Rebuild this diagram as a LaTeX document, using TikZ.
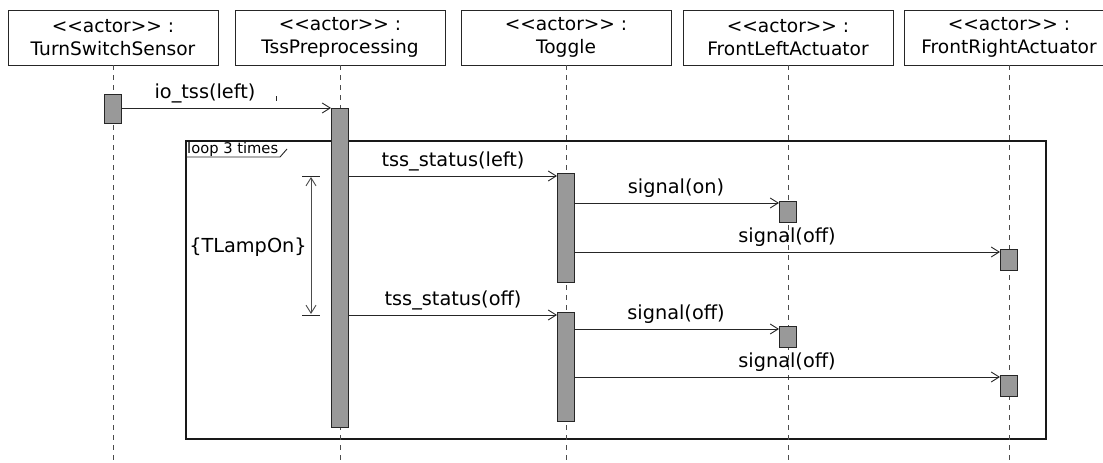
\documentclass[tikz,border=0pt]{standalone}
\usepackage{fontspec}
\setmainfont{DejaVu Sans}
\usetikzlibrary{arrows.meta}
\begin{document}
\begin{tikzpicture}[x=1pt,y=-1pt,
  hdr/.style={draw=black!85, line width=0.9pt, minimum width=210pt, minimum height=55pt, inner sep=0pt, align=center, font=\fontsize{18.6}{23.5}\selectfont, fill=white},
  life/.style={draw=black!70, dash pattern=on 5pt off 5pt, line width=0.9pt},
  act/.style={draw=black!85, fill=black!40, line width=1pt, minimum width=17pt, inner sep=0pt},
  msg/.style={draw=black!85, line width=0.9pt, -{Straight Barb[length=8pt,width=10pt]}},
  lbl/.style={font=\fontsize{19.3}{22}\selectfont, inner sep=0pt},
  frm/.style={draw=black!90, line width=1.3pt},
]
\useasboundingbox (0,0) rectangle (1103,463);
% headers
\node[hdr] (h1) at (113,37.5) {<\kern0pt<actor>\kern0pt> :\\TurnSwitchSensor};
\node[hdr] (h2) at (340,37.5) {<\kern0pt<actor>\kern0pt> :\\TssPreprocessing};
\node[hdr] (h3) at (566,37.5) {<\kern0pt<actor>\kern0pt> :\\Toggle};
\node[hdr] (h4) at (788,37.5) {<\kern0pt<actor>\kern0pt> :\\FrontLeftActuator};
\node[hdr] (h5) at (1009,37.5) {<\kern0pt<actor>\kern0pt> :\\FrontRightActuator};
% loop frame
\draw[frm] (186,141) rectangle (1046,439);
\node[anchor=west, inner sep=0pt, font=\fontsize{14.7}{16}\selectfont] (loopl) at (187,149) {loop 3 times};
\coordinate (tabA) at (186,157);
\coordinate (tabB) at (280,157);
\coordinate (tabC) at (287,149);
\draw[draw=black!85, line width=0.9pt] (tabA) -- (tabB) -- (tabC);
% lifelines
\foreach \i/\x in {1/113,2/340,3/566,4/788,5/1009}{
  \coordinate (e\i) at (\x,463);
  \draw[life] (h\i.south) -- (e\i);
}
% activations
\node[act, anchor=north, minimum height=29pt] (a1) at (113,94) {};
\node[act, anchor=north, minimum height=319pt] (a2) at (340,108) {};
\node[act, anchor=north, minimum height=109pt] (a3a) at (566,173) {};
\node[act, anchor=north, minimum height=109pt] (a3b) at (566,312) {};
\node[act, anchor=north, minimum height=21pt] (a4a) at (788,201) {};
\node[act, anchor=north, minimum height=21pt] (a4b) at (788,326) {};
\node[act, anchor=north, minimum height=21pt] (a5a) at (1009,249) {};
\node[act, anchor=north, minimum height=21pt] (a5b) at (1009,375) {};
% messages
\draw[msg] (a1.east |- 0,108) -- (a2.west |- 0,108);
\node[lbl] (l1) at (205,93) {io\_tss(left)};
\coordinate (tk1) at (276,96);
\coordinate (tk2) at (276,101);
\draw[draw=black!85, line width=0.9pt] (tk1) -- (tk2);
\draw[msg] (a2.east |- 0,176) -- (a3a.west |- 0,176);
\node[lbl] (l2) at (453,161) {tss\_status(left)};
\draw[msg] (a3a.east |- 0,203) -- (a4a.west |- 0,203);
\node[lbl] (l3) at (676,188) {signal(on)};
\draw[msg] (a3a.east |- 0,252) -- (a5a.west |- 0,252);
\node[lbl] (l4) at (787,237) {signal(off)};
\draw[msg] (a2.east |- 0,315) -- (a3b.west |- 0,315);
\node[lbl] (l5) at (453,300) {tss\_status(off)};
\draw[msg] (a3b.east |- 0,329) -- (a4b.west |- 0,329);
\node[lbl] (l6) at (676,314) {signal(off)};
\draw[msg] (a3b.east |- 0,377) -- (a5b.west |- 0,377);
\node[lbl] (l7) at (787,362) {signal(off)};
% duration constraint
\coordinate (t1a) at (302,176);
\coordinate (t1b) at (320,176);
\coordinate (t2a) at (302,315);
\coordinate (t2b) at (320,315);
\draw[draw=black!85, line width=0.9pt] (t1a) -- (t1b);
\draw[draw=black!85, line width=0.9pt] (t2a) -- (t2b);
\coordinate (d1) at (311,177);
\coordinate (d2) at (311,314);
\draw[draw=black!70, line width=0.9pt, {Straight Barb[length=8pt,width=10pt]}-{Straight Barb[length=8pt,width=10pt]}] (d1) -- (d2);
\node[lbl] (tl) at (248,247) {\{TLampOn\}};
\end{tikzpicture}
\end{document}
